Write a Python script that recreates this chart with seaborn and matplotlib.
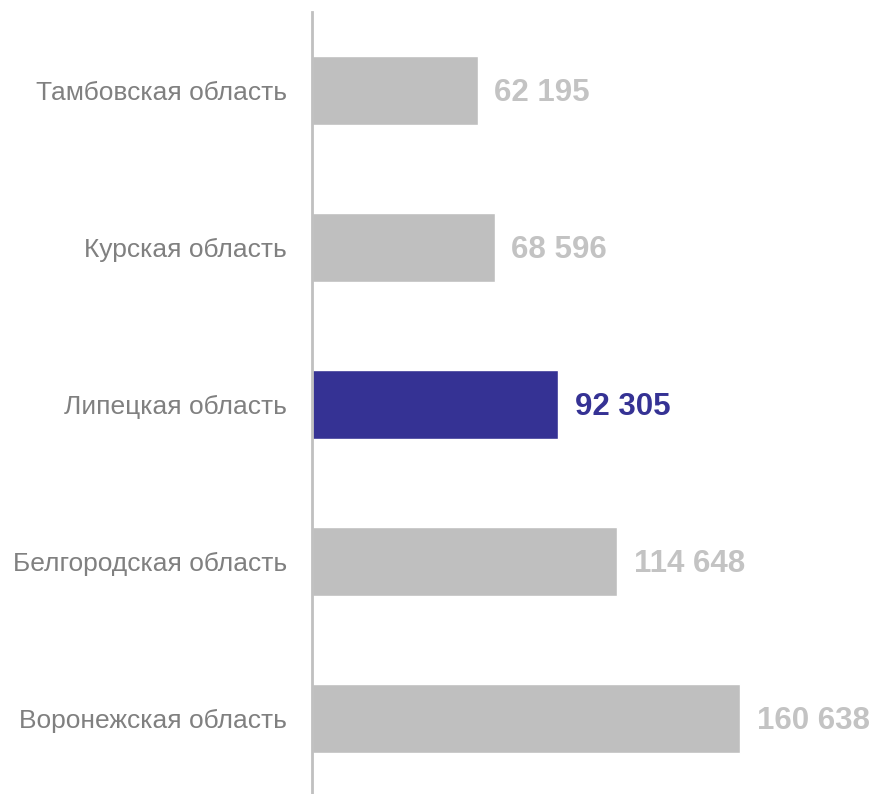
import matplotlib
matplotlib.use("Agg")
import matplotlib.pyplot as plt
import seaborn as sns
import pandas as pd

# Data
regions = ["Тамбовская область", "Курская область", "Липецкая область",
           "Белгородская область", "Воронежская область"]
values = [62195, 68596, 92305, 114648, 160638]
highlight = "Липецкая область"

GREY_BAR = "#bfbfbf"
GREY_TEXT = "#c3c3c3"
BLUE = "#353294"
LABEL_COLOR = "#808080"

sns.set_style("white")
plt.rcParams['font.family'] = ['Liberation Sans', 'DejaVu Sans']

df = pd.DataFrame({"region": regions, "value": values})
palette = {r: (BLUE if r == highlight else GREY_BAR) for r in regions}

fig = plt.figure(figsize=(8.76, 7.94), dpi=100)
ax = fig.add_axes([312 / 876, 0, 1 - 312 / 876, 782 / 794])

sns.barplot(data=df, x="value", y="region", hue="region", palette=palette,
            width=0.44, legend=False, saturation=1, ax=ax)

ax.set_xlim(0, 211700)
ax.set_ylim(4.48, -0.5)

# value labels
for i, (r, v) in enumerate(zip(regions, values)):
    col = BLUE if r == highlight else GREY_TEXT
    txt = f"{v:,}".replace(",", " ")
    ax.annotate(txt, (v, i), xytext=(12, -1.5), textcoords="offset points",
                va="center", ha="left", fontsize=22.5, fontweight="bold", color=col)

ax.set_xlabel("")
ax.set_ylabel("")
ax.set_xticks([])
ax.tick_params(axis="y", length=0, pad=18, labelsize=19, labelcolor=LABEL_COLOR)
for s in ["top", "right", "bottom"]:
    ax.spines[s].set_visible(False)
ax.spines["left"].set_color("#c0c0c0")
ax.spines["left"].set_linewidth(2)

fig.savefig("out.png", dpi=100)
